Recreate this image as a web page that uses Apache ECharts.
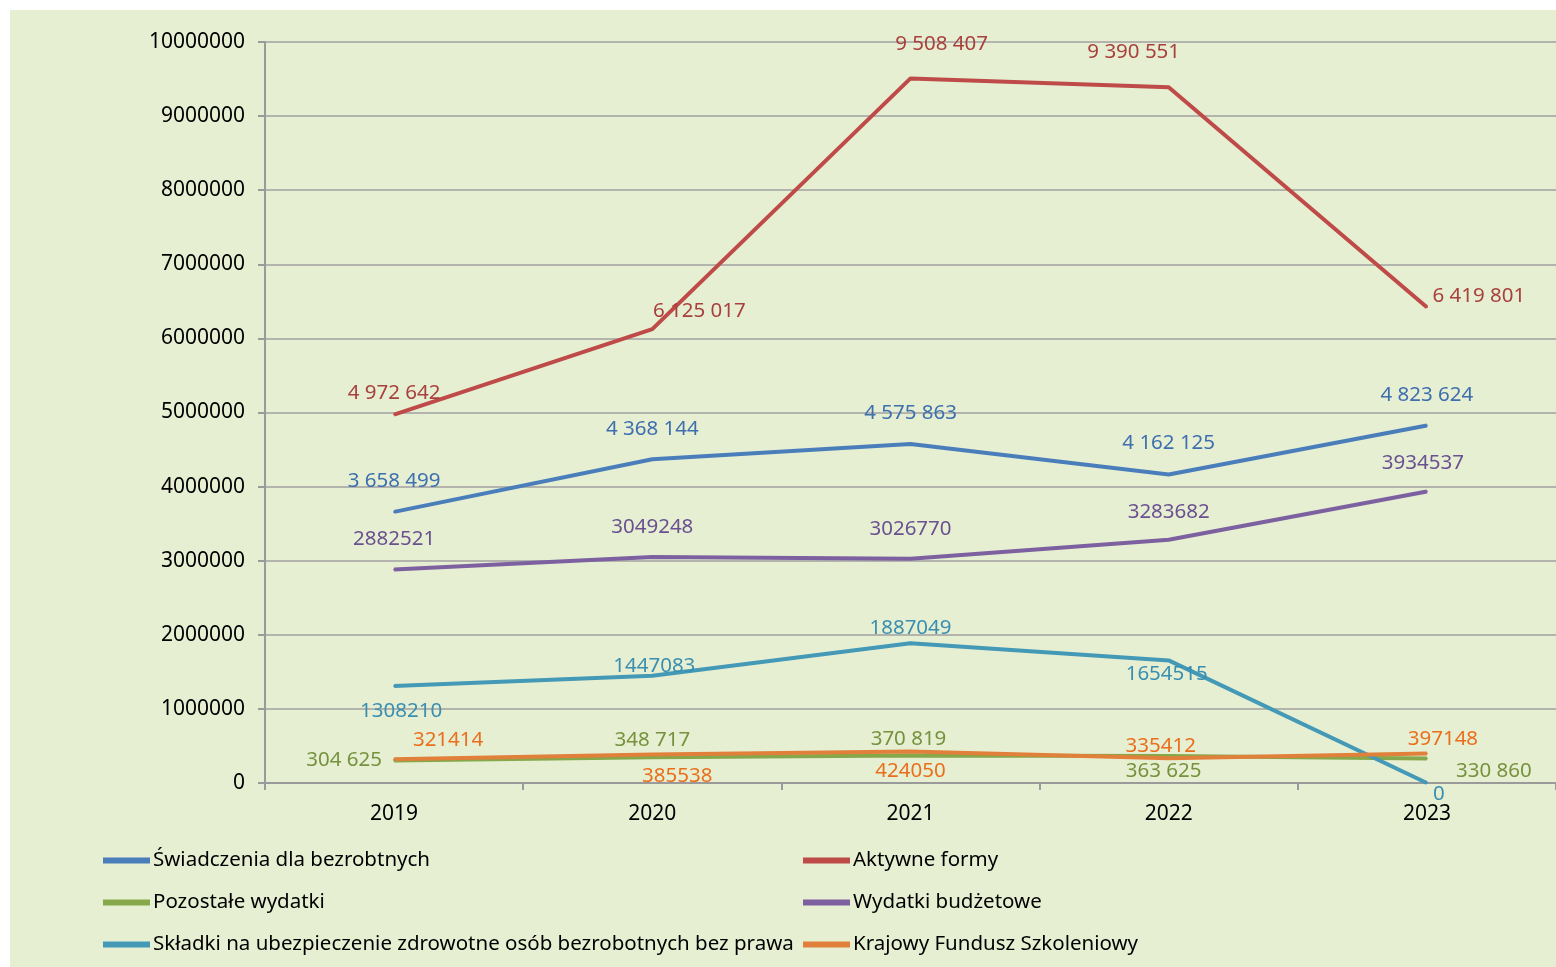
<!DOCTYPE html>
<html>
<head>
<meta charset="utf-8">
<script src="https://cdn.jsdelivr.net/npm/echarts@6/dist/echarts.min.js"></script>
<style>
    html, body { margin: 0; padding: 0; background: #ffffff; }
    #panel { position: absolute; left: 10px; top: 10px; width: 1546px; height: 957px; background: #e7efd3; }
    #chart { position: absolute; left: 0; top: 0; width: 1556px; height: 967px; }
</style>
</head>
<body>
<div id="panel"></div>
<div id="chart"></div>
<script>
// lata
var years = ['2019', '2020', '2021', '2022', '2023']

// wartosci serii
var swiadczenia = [3658499, 4368144, 4575863, 4162125, 4823624]
var aktywne = [4972642, 6125017, 9508407, 9390551, 6419801]
var pozostale = [304625, 348717, 370819, 363625, 330860]
var budzetowe = [2882521, 3049248, 3026770, 3283682, 3934537]
var skladki = [1308210, 1447083, 1887049, 1654515, 0]
var kfs = [321414, 385538, 424050, 335412, 397148]

var yTicks = [0, 1000000, 2000000, 3000000, 4000000, 5000000, 6000000, 7000000, 8000000, 9000000, 10000000]

var FONT = 'Noto Sans'

// przesuniecia etykiet wzgledem punktu (px)
var offsets = {
    swiadczenia: [[0, -31], [0, -30], [0, -31], [0, -31], [0, -30]],
    aktywne: [[0, -21], [47, -18], [31, -34], [-35, -35], [52, -11]],
    pozostale: [[-50, 0], [0, -17], [-2, -16], [-5, 15], [67, 13]],
    budzetowe: [[0, -30], [0, -30], [0, -30], [0, -28], [-4, -28]],
    skladki: [[7, 25], [2, -10], [0, -15], [-2, 14], [12, 11]],
    kfs: [[54, -19], [25, 22], [0, 20], [-8, -12], [16, -14]]
}

var spaced = function (v) {
    return String(v).replace(/\B(?=(\d{3})+(?!\d))/g, ' ')
}

var makeSeries = function (name, values, off, lineColor, labelColor, withSpaces) {
    var data = []
    for (var i = 0; i < values.length; i++) {
        data.push({
            value: values[i],
            label: { offset: off[i] }
        })
    }
    return {
        name: name,
        type: 'line',
        data: data,
        symbol: 'circle',
        symbolSize: 2,
        itemStyle: { color: lineColor },
        lineStyle: { color: lineColor, width: 4 },
        label: {
            show: true,
            position: 'inside',
            color: labelColor,
            fontFamily: FONT,
            fontSize: 20.5,
            formatter: function (p) {
                return withSpaces ? spaced(p.value) : String(p.value)
            }
        },
        emphasis: { disabled: true },
        animation: false
    }
}

var chart = echarts.init(document.getElementById('chart'))

var legendBase = {
    orient: 'vertical',
    top: 845,
    icon: 'rect',
    itemWidth: 47,
    itemHeight: 6,
    itemGap: 21,
    textStyle: { color: '#000', fontFamily: FONT, fontSize: 20.5, lineHeight: 20, padding: [0, 0, 0, -2] }
}

var option = {
    backgroundColor: 'transparent',
    animation: false,
    grid: { left: 265, right: 0, top: 42, bottom: 184 },
    legend: [
        Object.assign({}, legendBase, {
            left: 98,
            data: ['Świadczenia dla bezrobtnych', 'Pozostałe wydatki', 'Składki na ubezpieczenie zdrowotne osób bezrobotnych bez prawa']
        }),
        Object.assign({}, legendBase, {
            left: 798,
            data: ['Aktywne formy', 'Wydatki budżetowe', 'Krajowy Fundusz Szkoleniowy']
        })
    ],
    xAxis: {
        type: 'category',
        data: years,
        boundaryGap: true,
        axisLine: { lineStyle: { color: '#9a9a9a', width: 2 } },
        axisTick: { show: true, length: 7, lineStyle: { color: '#9a9a9a', width: 2 } },
        axisLabel: { color: '#000', fontFamily: FONT, fontSize: 21, margin: 21 },
        splitLine: { show: false }
    },
    yAxis: {
        type: 'value',
        min: yTicks[0],
        max: yTicks[yTicks.length - 1],
        interval: yTicks[1] - yTicks[0],
        axisLine: { show: true, lineStyle: { color: '#9a9a9a', width: 2 } },
        axisTick: { show: true, length: 7, lineStyle: { color: '#9a9a9a', width: 2 } },
        axisLabel: {
            color: '#000', fontFamily: FONT, fontSize: 21, margin: 20,
            formatter: function (v) { return String(v) }
        },
        splitLine: { lineStyle: { color: '#a0a0a0', width: 1.5 } }
    },
    series: [
        makeSeries('Świadczenia dla bezrobtnych', swiadczenia, offsets.swiadczenia, '#4a7ebb', '#3e6fae', true),
        makeSeries('Aktywne formy', aktywne, offsets.aktywne, '#be4b48', '#a8403d', true),
        makeSeries('Pozostałe wydatki', pozostale, offsets.pozostale, '#86a74a', '#76923c', true),
        makeSeries('Wydatki budżetowe', budzetowe, offsets.budzetowe, '#7d60a0', '#6a5190', false),
        makeSeries('Składki na ubezpieczenie zdrowotne osób bezrobotnych bez prawa', skladki, offsets.skladki, '#4399b6', '#3a8fb0', false),
        makeSeries('Krajowy Fundusz Szkoleniowy', kfs, offsets.kfs, '#e0803a', '#ea6f1c', false)
    ]
}

chart.setOption(option)
window.addEventListener('resize', function () {
    chart.resize()
})
</script>
</body>
</html>
